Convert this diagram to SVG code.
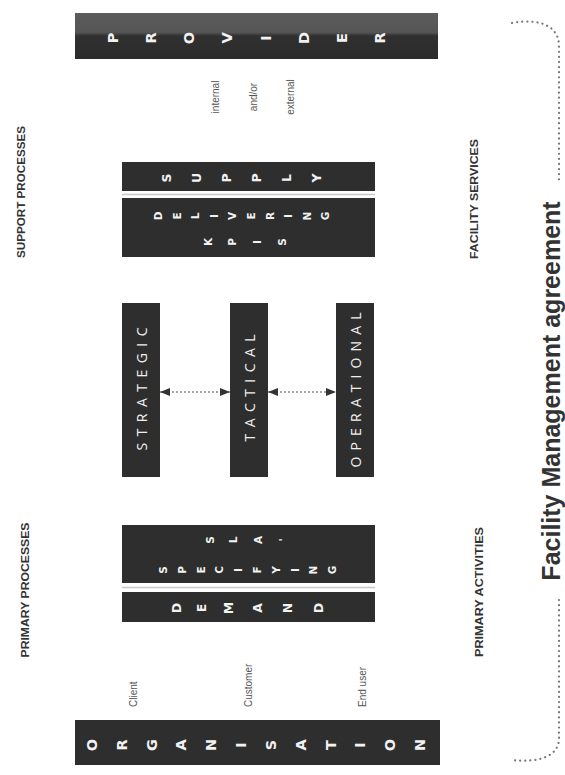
<svg xmlns="http://www.w3.org/2000/svg" width="565" height="775" viewBox="0 0 565 775">
<defs>
<linearGradient id="provGrad" x1="0" y1="0" x2="0" y2="1">
<stop offset="0" stop-color="#5c5c5c"/>
<stop offset="0.42" stop-color="#555"/>
<stop offset="0.5" stop-color="#303030"/>
<stop offset="1" stop-color="#2b2b2b"/>
</linearGradient>
<marker id="ah" viewBox="0 0 10 8" refX="10" refY="4" markerWidth="10" markerHeight="8" markerUnits="userSpaceOnUse" orient="auto-start-reverse">
<path d="M0,0 L10,4 L0,8 Z" fill="#333"/>
</marker>
<style>
.box{fill:#2e2e2e;}
.lt{font-family:"DejaVu Sans",sans-serif;font-weight:bold;fill:#f2f2f2;text-anchor:middle;dominant-baseline:central;}
.big{font-size:14.5px;}
.mid{font-size:12.5px;}
.sm{font-size:10.5px;}
.lvl{font-family:"Open Sans","Liberation Sans",sans-serif;font-size:14px;fill:#eee;text-anchor:middle;dominant-baseline:central;}
.sec{font-family:"Liberation Sans",sans-serif;font-weight:bold;font-size:11px;fill:#333;text-anchor:middle;dominant-baseline:central;}
.role{font-family:"Liberation Sans",sans-serif;font-size:10px;fill:#555;dominant-baseline:central;}
.title{font-family:"Liberation Sans",sans-serif;font-weight:bold;font-size:25px;fill:#333;text-anchor:middle;}
.sep{stroke:#c8c8c8;stroke-width:1.5;}
.conn{stroke:#888;stroke-width:1.5;stroke-dasharray:2 2;fill:none;}
.dot{stroke:#777;stroke-width:2.2;stroke-linecap:round;stroke-dasharray:0.1 5;fill:none;}
</style>
</defs>
<rect width="565" height="775" fill="#fff"/>

<g id="provider">
<rect x="75" y="13" width="363" height="46" fill="url(#provGrad)"/>
<g transform="rotate(-90)"><text class="lt big" x="-38 -38 -38 -38 -38 -38 -38 -38" y="113 151 189 227 266 304 342 380">PROVIDER</text></g>
</g>

<g id="provider-roles" transform="rotate(-90)">
<text class="role" text-anchor="middle" x="-97" y="215">internal</text>
<text class="role" text-anchor="middle" x="-97" y="253">and/or</text>
<text class="role" text-anchor="middle" x="-97" y="290">external</text>
</g>

<g id="supply">
<rect class="box" x="122" y="162" width="253" height="29"/>
<g transform="rotate(-90)"><text class="lt mid" x="-178 -178 -178 -178 -178 -178" y="166 196 226 256 286 316">SUPPLY</text></g>
</g>
<line class="sep" x1="122" y1="194.5" x2="375" y2="194.5"/>
<g id="delivering">
<rect class="box" x="122" y="198" width="253" height="59"/>
<g transform="rotate(-90)">
<text class="lt sm" x="-216 -216 -216 -216 -216 -216 -216 -216 -216 -216" y="158 177 195 214 232 251 270 288 307 325">DELIVERING</text>
<text class="lt sm" x="-242 -242 -242 -242" y="208 232 257 282">KPIS</text>
</g>
</g>

<g id="strategic">
<rect class="box" x="122" y="303" width="38" height="174"/>
<g transform="rotate(-90)"><text class="lvl" x="-389" y="141" textLength="123" lengthAdjust="spacing">STRATEGIC</text></g>
</g>
<g id="tactical">
<rect class="box" x="230" y="303" width="38" height="174"/>
<g transform="rotate(-90)"><text class="lvl" x="-388" y="249" textLength="107" lengthAdjust="spacing">TACTICAL</text></g>
</g>
<g id="operational">
<rect class="box" x="336" y="303" width="38" height="174"/>
<g transform="rotate(-90)"><text class="lvl" x="-390" y="355" textLength="155" lengthAdjust="spacing">OPERATIONAL</text></g>
</g>

<g id="connectors">
<line class="conn" x1="160" y1="392" x2="230" y2="392" marker-start="url(#ah)" marker-end="url(#ah)"/>
<line class="conn" x1="268" y1="392" x2="336" y2="392" marker-start="url(#ah)" marker-end="url(#ah)"/>
</g>

<g id="specifying">
<rect class="box" x="122" y="525" width="253" height="58"/>
<g transform="rotate(-90)">
<text class="lt sm" x="-540 -540 -540 -540" y="210 233 258 283">SLA'</text>
<text class="lt sm" x="-570 -570 -570 -570 -570 -570 -570 -570 -570 -570" y="163 182 201 219 238 257 276 295 313 332">SPECIFYING</text>
</g>
</g>
<line class="sep" x1="122" y1="587.5" x2="375" y2="587.5"/>
<g id="demand">
<rect class="box" x="122" y="592" width="253" height="30"/>
<g transform="rotate(-90)"><text class="lt mid" x="-608 -608 -608 -608 -608 -608" y="176 201 228 257 287 318">DEMAND</text></g>
</g>

<g id="organisation-roles" transform="rotate(-90)">
<text class="role" x="-707" y="133">Client</text>
<text class="role" x="-707" y="248">Customer</text>
<text class="role" x="-707" y="362">End user</text>
</g>

<g id="organisation">
<rect class="box" x="75" y="720" width="365" height="45"/>
<g transform="rotate(-90)"><text class="lt big" x="-745 -745 -745 -745 -745 -745 -745 -745 -745 -745 -745 -745" y="92 122 152 181 211 241 271 301 331 360 390 420">ORGANISATION</text></g>
</g>

<g id="section-labels" transform="rotate(-90)">
<text class="sec" x="-192" y="21" textLength="132" lengthAdjust="spacingAndGlyphs">SUPPORT PROCESSES</text>
<text class="sec" x="-590" y="25" textLength="135" lengthAdjust="spacingAndGlyphs">PRIMARY PROCESSES</text>
<text class="sec" x="-199" y="474" textLength="120" lengthAdjust="spacingAndGlyphs">FACILITY SERVICES</text>
<text class="sec" x="-592" y="479" textLength="130" lengthAdjust="spacingAndGlyphs">PRIMARY ACTIVITIES</text>
</g>

<g id="agreement">
<path class="dot" d="M512,23 C540,18 559,26 559,46 L559,184"/>
<path class="dot" d="M559,600 L559,738 C559,756 540,763 512,760"/>
<g transform="rotate(-90)"><text class="title" x="-391" y="560">Facility Management agreement</text></g>
</g>
</svg>
